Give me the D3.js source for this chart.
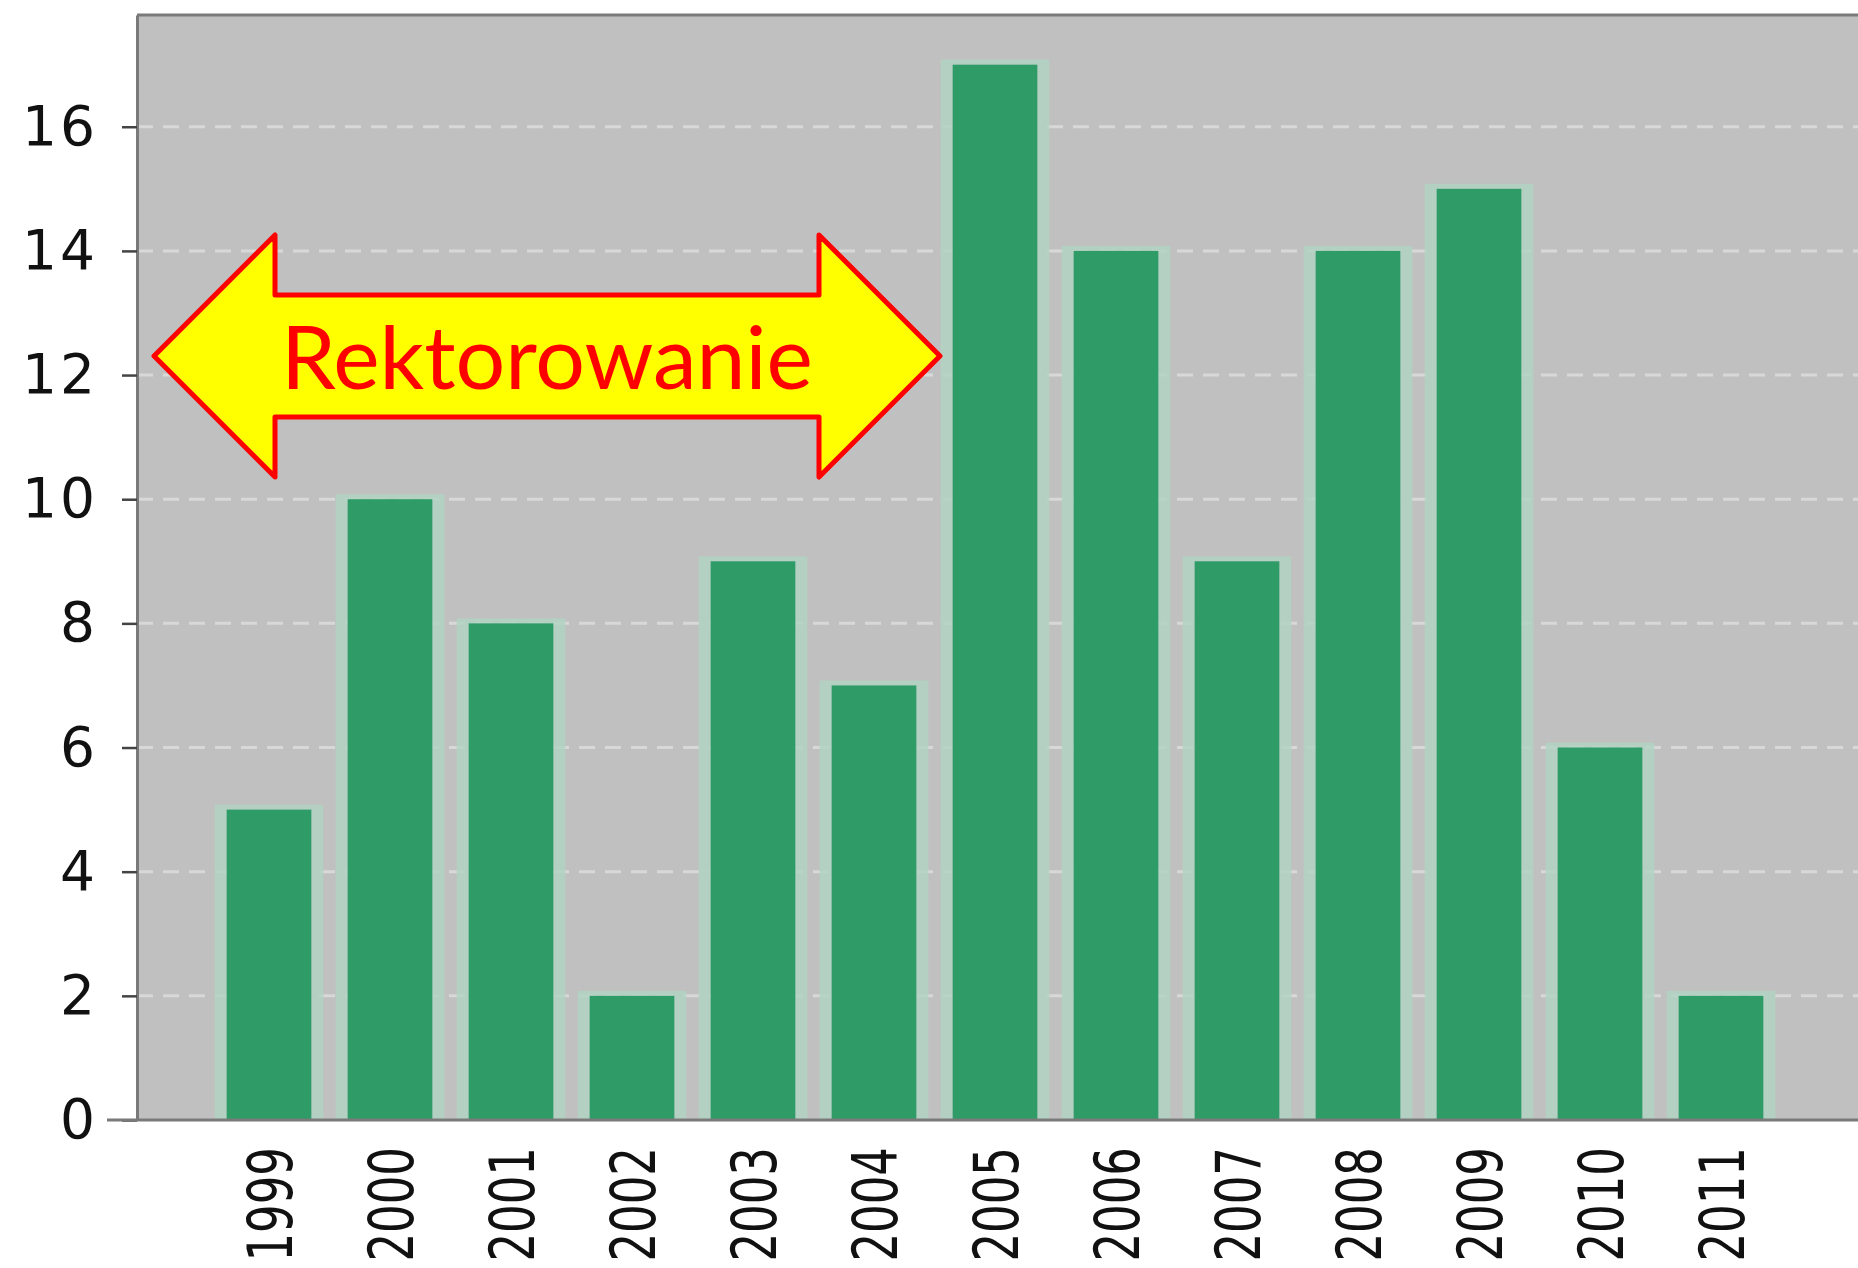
<!DOCTYPE html>
<html>
<head>
<meta charset="utf-8">
<script src="https://cdn.jsdelivr.net/npm/d3@7"></script>
<style>
  body { margin: 0; background: #fff; }
  svg { display: block; }
</style>
</head>
<body>
<div id="chart"></div>
<script>
// data
const years = ['1999', '2000', '2001', '2002', '2003', '2004', '2005', '2006', '2007', '2008', '2009', '2010', '2011'];
const counts = [5, 10, 8, 2, 9, 7, 17, 14, 9, 14, 15, 6, 2];
const yTicks = [0, 2, 4, 6, 8, 10, 12, 14, 16];
const label = 'Rektorowanie';

const width = 1858, height = 1268;
const margin = { top: 15, right: 0, bottom: 148, left: 137 };
const plotW = width - margin.left - margin.right;
const plotH = height - margin.top - margin.bottom;

const svg = d3.select('#chart').append('svg')
  .attr('width', width)
  .attr('height', height);

const g = svg.append('g')
  .attr('transform', 'translate(' + margin.left + ',' + margin.top + ')');

const x = d3.scaleBand()
  .domain(years)
  .range([208.5 - margin.left, 1781.5 - margin.left])
  .paddingInner(0.3)
  .paddingOuter(0.15);

const y = d3.scaleLinear()
  .domain([0, 17.8])
  .range([plotH, 0]);

// plot background
g.append('rect')
  .attr('width', plotW)
  .attr('height', plotH)
  .attr('fill', '#c0c0c0');

// dashed grid lines
g.selectAll('.grid')
  .data(yTicks.filter(d => d > 0))
  .enter().append('line')
  .attr('class', 'grid')
  .attr('x1', 0)
  .attr('x2', plotW)
  .attr('y1', d => y(d))
  .attr('y2', d => y(d))
  .attr('stroke', '#d8d8d8')
  .attr('stroke-width', 3)
  .attr('stroke-dasharray', '16,10');

const data = years.map((yr, i) => ({ year: yr, value: counts[i] }));

// pale halo round the bars
g.selectAll('.halo')
  .data(data)
  .enter().append('rect')
  .attr('class', 'halo')
  .attr('x', d => x(d.year) - 12)
  .attr('y', d => y(d.value) - 5)
  .attr('width', x.bandwidth() + 24)
  .attr('height', d => plotH - y(d.value) + 5)
  .attr('fill', '#b0d3c3')
  .attr('opacity', 0.8);

g.selectAll('.bar')
  .data(data)
  .enter().append('rect')
  .attr('class', 'bar')
  .attr('x', d => x(d.year))
  .attr('y', d => y(d.value))
  .attr('width', x.bandwidth())
  .attr('height', d => plotH - y(d.value))
  .attr('fill', '#2f9c67');

// frame: top border
g.append('line')
  .attr('x1', 0).attr('x2', plotW)
  .attr('y1', 0).attr('y2', 0)
  .attr('stroke', '#7a7a7a').attr('stroke-width', 3);

// y axis
const yAxis = g.append('g')
  .call(d3.axisLeft(y).tickValues(yTicks).tickSize(15).tickSizeOuter(0).tickPadding(24));
yAxis.select('.domain').attr('stroke', '#7a7a7a').attr('stroke-width', 3);
yAxis.selectAll('.tick line').attr('stroke', '#444').attr('stroke-width', 2.5);
yAxis.selectAll('.tick text')
  .attr('font-family', '"DejaVu Sans"')
  .attr('font-size', 55)
  .attr('letter-spacing', 3)
  .attr('fill', '#111');

// x axis
const xAxis = g.append('g')
  .attr('transform', 'translate(0,' + plotH + ')')
  .call(d3.axisBottom(x).tickSize(0));
xAxis.select('.domain').remove();
g.append('line')
  .attr('x1', 107 - margin.left).attr('x2', plotW)
  .attr('y1', plotH).attr('y2', plotH)
  .attr('stroke', '#7a7a7a').attr('stroke-width', 3);
xAxis.selectAll('.tick text')
  .attr('font-family', '"DejaVu Sans"')
  .attr('font-size', 45)
  .attr('fill', '#111')
  .attr('text-anchor', 'end')
  .attr('dy', '0.36em')
  .attr('y', 0)
  .attr('transform', 'translate(0,27) rotate(-90) scale(1,1.4)');

// annotation arrow (double headed)
const ax0 = 154, ax1 = 940, nx0 = 275, nx1 = 819;
const cy = 356, headH = 121, shaftH = 61;
const arrowPts = [
  [ax0, cy], [nx0, cy - headH], [nx0, cy - shaftH], [nx1, cy - shaftH],
  [nx1, cy - headH], [ax1, cy], [nx1, cy + headH], [nx1, cy + shaftH],
  [nx0, cy + shaftH], [nx0, cy + headH]
];
svg.append('polygon')
  .attr('points', arrowPts.map(p => p.join(',')).join(' '))
  .attr('fill', '#ffff00')
  .attr('stroke', '#ff0000')
  .attr('stroke-width', 5)
  .attr('stroke-linejoin', 'round');

const t = svg.append('text')
  .attr('x', (ax0 + ax1) / 2)
  .attr('y', 389)
  .attr('text-anchor', 'middle')
  .attr('font-family', 'Lato, "Open Sans", sans-serif')
  .attr('font-size', 92)
  .attr('fill', '#ff0000')
  .text(label);
// fit the word to the width it has in the picture
const w = t.node().getComputedTextLength();
t.attr('font-size', 92 * 532 / w);
</script>
</body>
</html>
